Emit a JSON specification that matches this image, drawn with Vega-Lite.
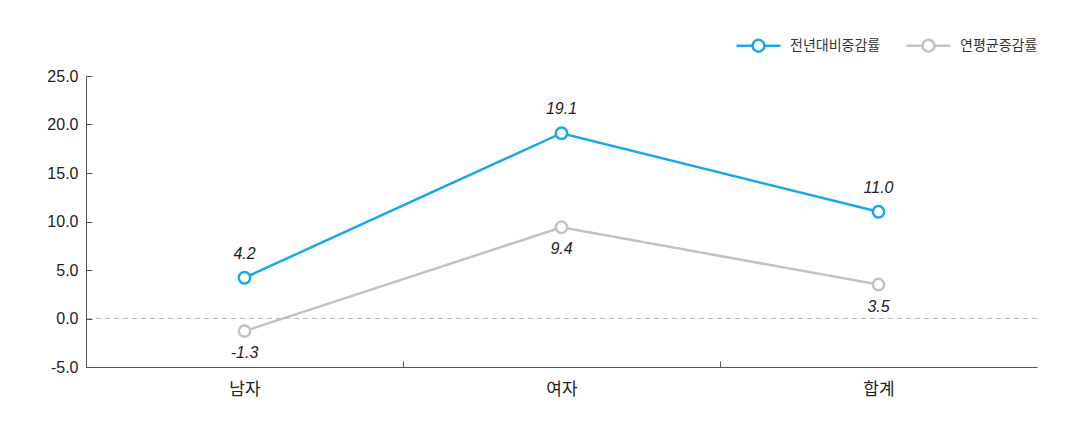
{
  "$schema": "https://vega.github.io/schema/vega-lite/v6.json",
  "width": 951,
  "height": 291,
  "autosize": {"type": "none"},
  "padding": {"left": 86, "top": 76, "right": 37, "bottom": 71},
  "background": "white",
  "config": {
    "view": {"stroke": null},
    "font": "Noto Sans CJK KR",
    "axis": {"labelFont": "Liberation Sans", "labelColor": "#222", "labelFontSize": 16, "domainColor": "#555", "tickColor": "#555", "grid": false, "title": null}
  },
  "data": {
    "values": [
      {"cat": "남자", "series": "전년대비증감률", "value": 4.2},
      {"cat": "여자", "series": "전년대비증감률", "value": 19.1},
      {"cat": "합계", "series": "전년대비증감률", "value": 11.0},
      {"cat": "남자", "series": "연평균증감률", "value": -1.3},
      {"cat": "여자", "series": "연평균증감률", "value": 9.4},
      {"cat": "합계", "series": "연평균증감률", "value": 3.5}
    ]
  },
  "resolve": {"axis": {"x": "independent", "y": "independent"}},
  "layer": [
    {"mark": {"type": "rule", "color": "#bbbbbb", "strokeDash": [5, 4], "strokeWidth": 1},
      "data": {"values": [{"z": 0}]},
      "encoding": {"y": {"field": "z", "type": "quantitative", "scale": {"domain": [-5, 25], "nice": false}, "axis": null}}},
    {"mark": {"type": "line", "strokeWidth": 2.5},
      "encoding": {
        "x": {"field": "cat", "type": "nominal", "sort": null,
          "scale": {"paddingInner": 0, "paddingOuter": 0},
          "axis": {"orient": "bottom", "labelAngle": 0, "ticks": false, "labelPadding": 14, "labelFont": "Noto Sans CJK KR", "labelFontSize": 17}},
        "y": {"field": "value", "type": "quantitative",
          "scale": {"domain": [-5, 25], "nice": false},
          "axis": {"orient": "left", "values": [-5, 0, 5, 10, 15, 20, 25], "labelExpr": "replace(format(datum.value, '.1f'), '\u2212', '-')", "ticks": false, "labelPadding": 8}},
        "color": {"field": "series", "type": "nominal",
          "scale": {"domain": ["전년대비증감률", "연평균증감률"], "range": ["#18a8e6", "#c3c3c3"]},
          "legend": {"title": null, "orient": "none", "legendX": 649, "legendY": -54, "direction": "horizontal",
            "symbolType": "M-1,0L-0.27,0M0.27,0L1,0M0.27,0A0.27,0.27 0 1 1 -0.27,0A0.27,0.27 0 1 1 0.27,0",
            "symbolSize": 1936, "symbolStrokeWidth": 2.5, "symbolFillColor": "white",
            "labelFontSize": 14, "labelColor": "#333", "labelFont": "Noto Sans CJK KR", "columnPadding": 20, "labelOffset": 8}}
      }},
    {"mark": {"type": "point", "filled": true, "fill": "white", "size": 130, "strokeWidth": 2.5, "opacity": 1},
      "encoding": {
        "x": {"field": "cat", "type": "nominal", "sort": null, "scale": {"paddingInner": 0, "paddingOuter": 0},
          "axis": {"orient": "bottom", "offset": -6, "domain": false, "labels": false, "tickOffset": -158.5, "values": ["여자", "합계"], "tickSize": 6}},
        "y": {"field": "value", "type": "quantitative", "scale": {"domain": [-5, 25], "nice": false},
          "axis": {"orient": "left", "offset": -6, "domain": false, "labels": false, "values": [-5, 0, 5, 10, 15, 20, 25], "tickSize": 6}},
        "stroke": {"field": "series", "type": "nominal", "scale": {"domain": ["전년대비증감률", "연평균증감률"], "range": ["#18a8e6", "#c3c3c3"]}, "legend": null}}},
    {"mark": {"type": "text", "fontStyle": "italic", "fontSize": 16, "font": "Liberation Sans", "color": "#222", "baseline": "middle", "dy": -24,
        "text": {"expr": "replace(format(datum.value, '.1f'), '\u2212', '-')"}},
      "transform": [{"filter": "datum.series === '전년대비증감률'"}],
      "encoding": {
        "x": {"field": "cat", "type": "nominal", "sort": null, "scale": {"paddingInner": 0, "paddingOuter": 0}, "axis": null},
        "y": {"field": "value", "type": "quantitative", "scale": {"domain": [-5, 25], "nice": false}, "axis": null}}},
    {"mark": {"type": "text", "fontStyle": "italic", "fontSize": 16, "font": "Liberation Sans", "color": "#222", "baseline": "middle", "dy": 22,
        "text": {"expr": "replace(format(datum.value, '.1f'), '\u2212', '-')"}},
      "transform": [{"filter": "datum.series === '연평균증감률'"}],
      "encoding": {
        "x": {"field": "cat", "type": "nominal", "sort": null, "scale": {"paddingInner": 0, "paddingOuter": 0}, "axis": null},
        "y": {"field": "value", "type": "quantitative", "scale": {"domain": [-5, 25], "nice": false}, "axis": null}}}
  ]
}
